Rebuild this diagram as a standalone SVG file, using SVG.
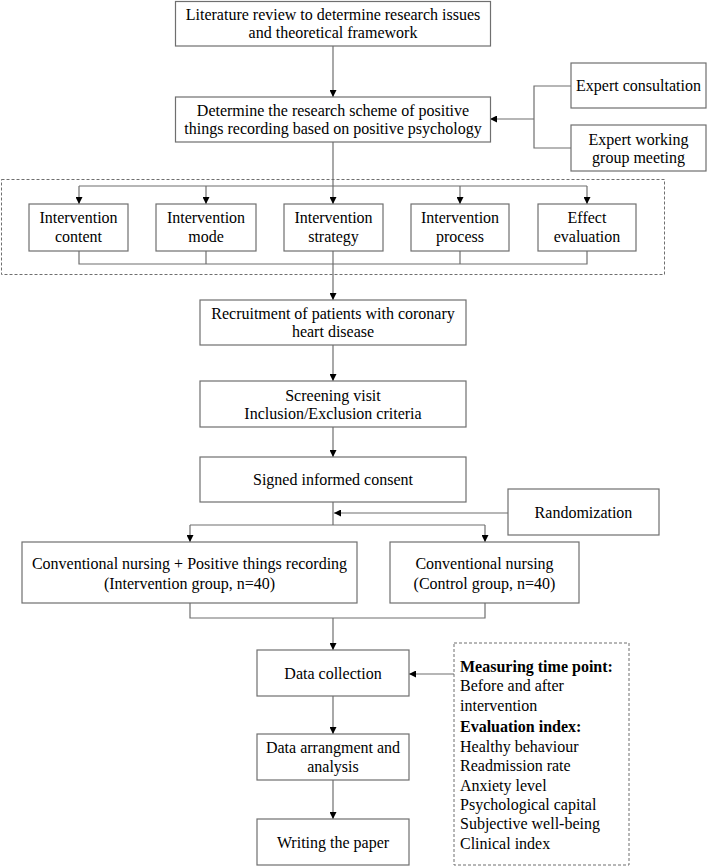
<svg xmlns="http://www.w3.org/2000/svg" width="708" height="867" viewBox="0 0 708 867">
<style>
.box{fill:#fff;stroke:#6f6f6f;stroke-width:1.2}
.dash{fill:none;stroke:#6f6f6f;stroke-width:1;stroke-dasharray:3,2}
.ln{fill:none;stroke:#6f6f6f;stroke-width:1.2}
.ar{fill:none;stroke:#6f6f6f;stroke-width:1.2;marker-end:url(#ah)}
text{font-family:"Liberation Serif","Times New Roman",serif;font-size:16px;fill:#000}
.c{text-anchor:middle}
.b{font-weight:bold}
</style>
<defs>
<marker id="ah" viewBox="0 0 10 10" refX="10" refY="5" markerWidth="7" markerHeight="7" markerUnits="userSpaceOnUse" orient="auto">
<path d="M0,0 L10,5 L0,10 z" fill="#000"/>
</marker>
</defs>

<rect class="dash" x="1.5" y="179.5" width="663" height="95"/>

<g id="connectors">
<path class="ar" d="M333,46 V97"/>
<path class="ln" d="M571,86 H534 V148 H571"/>
<path class="ar" d="M534,119 H490"/>
<path class="ar" d="M333,142 V204"/>
<path class="ln" d="M79,186 H587"/>
<path class="ar" d="M79,186 V204"/>
<path class="ar" d="M206,186 V204"/>
<path class="ar" d="M460,186 V204"/>
<path class="ar" d="M587,186 V204"/>
<path class="ln" d="M79,251 V264 H587 V251"/>
<path class="ln" d="M206,251 V264"/>
<path class="ln" d="M460,251 V264"/>
<path class="ar" d="M333,250 V300"/>
<path class="ar" d="M333,345 V381"/>
<path class="ar" d="M333,427 V457"/>
<path class="ln" d="M333,502 V525"/>
<path class="ar" d="M508,513 H334"/>
<path class="ln" d="M190,525 H485"/>
<path class="ar" d="M190,525 V542"/>
<path class="ar" d="M485,525 V542"/>
<path class="ln" d="M190,603 V618 H485 V603"/>
<path class="ar" d="M333,618 V650"/>
<path class="ar" d="M454,674 H409"/>
<path class="ar" d="M333,696 V734"/>
<path class="ar" d="M333,780 V819"/>
</g>

<g id="n1"><rect class="box" x="175.5" y="1.5" width="315" height="44.5"/>
<text class="c" x="333" y="20">Literature review to determine research issues</text>
<text class="c" x="333" y="38">and theoretical framework</text></g>

<g id="n2"><rect class="box" x="175.5" y="97" width="315" height="45"/>
<text class="c" x="333" y="116">Determine the research scheme of positive</text>
<text class="c" x="333" y="134">things recording based on positive psychology</text></g>

<g id="n3"><rect class="box" x="571" y="63" width="135" height="45"/>
<text class="c" x="638.5" y="91">Expert consultation</text></g>

<g id="n4"><rect class="box" x="571" y="125" width="135" height="46"/>
<text class="c" x="638.5" y="144.5">Expert working</text>
<text class="c" x="638.5" y="162.5">group meeting</text></g>

<g id="n5"><rect class="box" x="29" y="204" width="99" height="47"/>
<text class="c" x="78.5" y="223">Intervention</text>
<text class="c" x="78.5" y="242">content</text></g>

<g id="n6"><rect class="box" x="156" y="204" width="100" height="47"/>
<text class="c" x="206" y="223">Intervention</text>
<text class="c" x="206" y="242">mode</text></g>

<g id="n7"><rect class="box" x="284" y="204" width="99" height="47"/>
<text class="c" x="333.5" y="223">Intervention</text>
<text class="c" x="333.5" y="242">strategy</text></g>

<g id="n8"><rect class="box" x="411" y="204" width="98" height="47"/>
<text class="c" x="460" y="223">Intervention</text>
<text class="c" x="460" y="242">process</text></g>

<g id="n9"><rect class="box" x="538" y="204" width="98" height="47"/>
<text class="c" x="587" y="223">Effect</text>
<text class="c" x="587" y="242">evaluation</text></g>

<g id="n10"><rect class="box" x="200" y="300" width="266" height="45"/>
<text class="c" x="333" y="319">Recruitment of patients with coronary</text>
<text class="c" x="333" y="337">heart disease</text></g>

<g id="n11"><rect class="box" x="200" y="381" width="266" height="46"/>
<text class="c" x="333" y="400.5">Screening visit</text>
<text class="c" x="333" y="418.5">Inclusion/Exclusion criteria</text></g>

<g id="n12"><rect class="box" x="200" y="457" width="266" height="45"/>
<text class="c" x="333" y="485">Signed informed consent</text></g>

<g id="n13"><rect class="box" x="508" y="489" width="151" height="46"/>
<text class="c" x="583.5" y="517.5">Randomization</text></g>

<g id="n14"><rect class="box" x="22" y="542" width="335" height="61"/>
<text class="c" x="189.5" y="568.5">Conventional nursing + Positive things recording</text>
<text class="c" x="189.5" y="588.5">(Intervention group, n=40)</text></g>

<g id="n15"><rect class="box" x="390" y="542" width="189" height="61"/>
<text class="c" x="484.5" y="568.5">Conventional nursing</text>
<text class="c" x="484.5" y="588.5">(Control group, n=40)</text></g>

<g id="n16"><rect class="box" x="257" y="650" width="152" height="46"/>
<text class="c" x="333" y="678.5">Data collection</text></g>

<g id="n17"><rect class="box" x="257" y="734" width="152" height="46"/>
<text class="c" x="333" y="753">Data arrangment and</text>
<text class="c" x="333" y="771.5">analysis</text></g>

<g id="n18"><rect class="box" x="257" y="819" width="152" height="46"/>
<text class="c" x="333" y="847.5">Writing the paper</text></g>

<g id="n19"><rect class="dash" x="454" y="643" width="175" height="222"/>
<text class="b" x="460" y="671.5">Measuring time point:</text>
<text x="460" y="690.5">Before and after</text>
<text x="460" y="710.5">intervention</text>
<text class="b" x="460" y="732">Evaluation index:</text>
<text x="460" y="751.5">Healthy behaviour</text>
<text x="460" y="771">Readmission rate</text>
<text x="460" y="790.5">Anxiety level</text>
<text x="460" y="809.5">Psychological capital</text>
<text x="460" y="829">Subjective well-being</text>
<text x="460" y="849">Clinical index</text></g>
</svg>
